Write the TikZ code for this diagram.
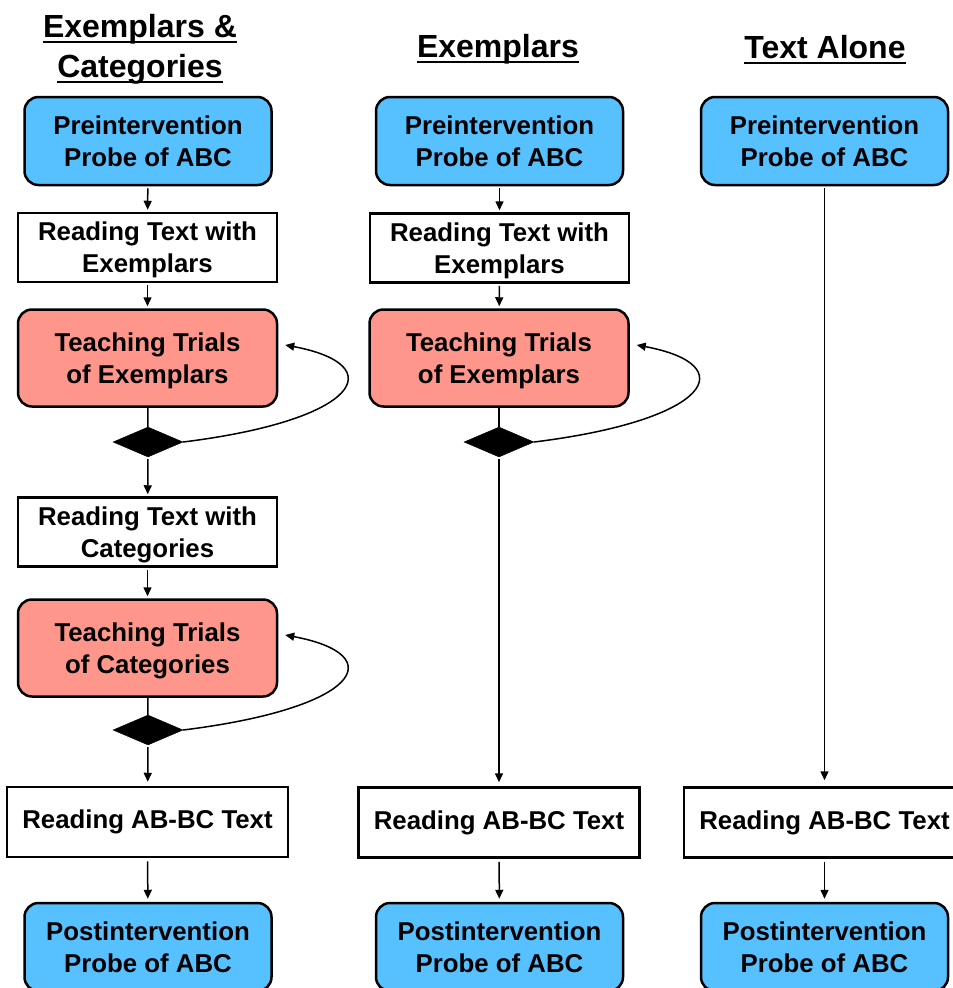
\documentclass[tikz,border=0pt]{standalone}
\usepackage{fontspec}
\setmainfont{Liberation Sans}
\usetikzlibrary{shapes.geometric,arrows.meta}
\definecolor{probeblue}{RGB}{87,192,255}
\definecolor{teachred}{RGB}{255,150,140}
\newcommand{\topstrutA}{\rule{0pt}{23.5pt}}
\newcommand{\topstrutB}{\rule{0pt}{24.5pt}}
\tikzset{
  boxtext/.style={font=\bfseries\fontsize{25.8}{32}\selectfont, align=center, inner sep=0pt},
  probe/.style={boxtext, draw, line width=2.5pt, rounded corners=14pt, fill=probeblue, minimum width=247pt, minimum height=88pt},
  readbox/.style={boxtext, draw, line width=2.5pt, fill=white, minimum width=259pt, minimum height=69pt},
  abbox/.style={boxtext, draw, line width=2.5pt, fill=white, minimum width=281pt, minimum height=70pt},
  teach/.style={boxtext, draw, line width=2.5pt, rounded corners=14pt, fill=teachred, minimum width=259pt, minimum height=97pt},
  decide/.style={diamond, fill=black, draw=black, inner sep=0pt, minimum width=70pt, minimum height=30pt},
  heading/.style={font=\bfseries\fontsize{32}{40}\selectfont, inner sep=0pt, anchor=base},
  uline/.style={line width=2pt},
  arr/.style={line width=1.5pt, -{Triangle[length=9pt,width=8pt]}, shorten <=2pt, shorten >=2pt},
  plain/.style={line width=1.5pt},
}
\begin{document}
\begin{tikzpicture}[x=1pt,y=-1pt]
\clip (0,0) rectangle (953,988);
\fill[white] (0,0) rectangle (953,988);
% headings
\node[heading] (h1a) at (140,37) {Exemplars \&};
\node[heading] (h1b) at (140,77) {Categories};
\node[heading] (h2) at (498,57) {Exemplars};
\node[heading] (h3) at (825,58) {Text Alone};
\foreach \h in {h1a,h1b,h2,h3}{
  \draw[uline] ([yshift=-4.5pt]\h.base west) -- ([yshift=-4.5pt]\h.base east);
}
% column 1
\node[probe] (pre1) at (148,141) {Preintervention\\Probe of ABC};
\node[readbox] (rt1) at (147.5,247.5) {\topstrutA Reading Text with\\Exemplars};
\node[teach] (tt1) at (147.5,358) {\topstrutB Teaching Trials\\of Exemplars};
\node[decide] (d1) at (148,442) {};
\node[readbox] (rt2) at (147.5,532) {\topstrutA Reading Text with\\Categories};
\node[teach] (tt2) at (147.5,648) {\topstrutB Teaching Trials\\of Categories};
\node[decide] (d2) at (148,730) {};
\node[abbox] (rab1) at (147.5,822) {Reading AB-BC Text};
\node[probe] (post1) at (148,947) {Postintervention\\Probe of ABC};
% column 2
\node[probe] (pre2) at (499.5,141) {Preintervention\\Probe of ABC};
\node[readbox] (rt3) at (499.5,248) {\topstrutA Reading Text with\\Exemplars};
\node[teach] (tt3) at (499,358) {\topstrutB Teaching Trials\\of Exemplars};
\node[decide] (d3) at (499,442) {};
\node[abbox] (rab2) at (499,822.5) {Reading AB-BC Text};
\node[probe] (post2) at (499.5,947) {Postintervention\\Probe of ABC};
% column 3
\node[probe] (pre3) at (824.5,141) {Preintervention\\Probe of ABC};
\node[abbox] (rab3) at (824.5,822.5) {Reading AB-BC Text};
\node[probe] (post3) at (824.5,947) {Postintervention\\Probe of ABC};
% connectors column 1
\draw[arr] (pre1) -- (rt1);
\draw[arr] (rt1) -- (tt1);
\draw[plain] (tt1) -- (d1);
\draw[arr] (d1) -- (rt2);
\draw[arr] (rt2) -- (tt2);
\draw[plain] (tt2) -- (d2);
\draw[arr, shorten >=4pt] (d2) -- (rab1);
\draw[arr, shorten <=3pt, shorten >=3pt] (rab1) -- (post1);
\draw[line width=1.5pt, -{Triangle[length=9pt,width=8pt]}] (d1.east) .. controls +(177,-22) and +(106,20) .. ([xshift=7pt,yshift=13pt]tt1.east);
\draw[line width=1.5pt, -{Triangle[length=9pt,width=8pt]}] (d2.east) .. controls +(177,-22) and +(106,20) .. ([xshift=7pt,yshift=13pt]tt2.east);
% connectors column 2
\draw[arr] (pre2) -- (rt3);
\draw[arr] (rt3) -- (tt3);
\draw[plain] (tt3) -- (d3);
\draw[arr, shorten >=4pt] (d3) -- (rab2);
\draw[arr, shorten <=3pt, shorten >=3pt] (rab2) -- (post2);
\draw[line width=1.5pt, -{Triangle[length=9pt,width=8pt]}] (d3.east) .. controls +(177,-22) and +(106,20) .. ([xshift=7pt,yshift=13pt]tt3.east);
% connectors column 3
\draw[arr, shorten >=6pt] (pre3) -- (rab3);
\draw[arr, shorten <=3pt, shorten >=3pt] (rab3) -- (post3);
\end{tikzpicture}
\end{document}
